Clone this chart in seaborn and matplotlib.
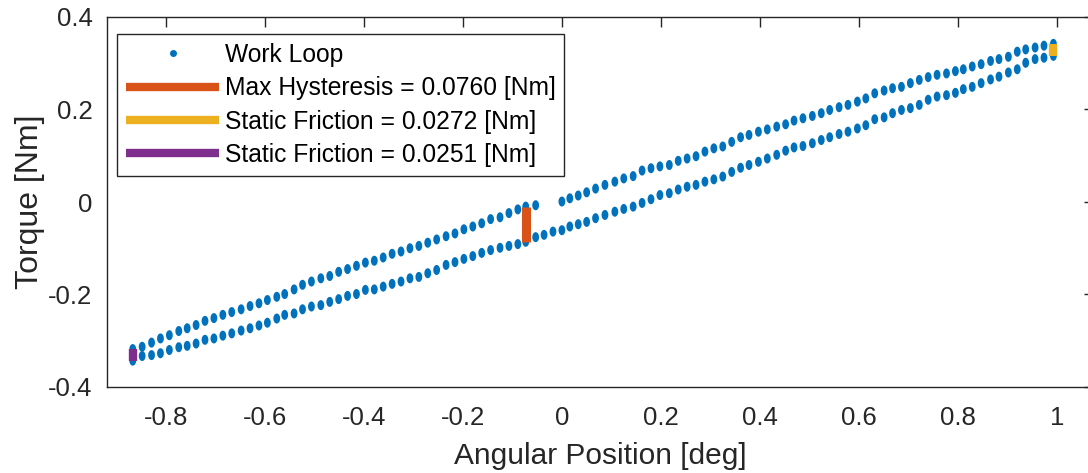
import numpy as np
import pandas as pd
import matplotlib
matplotlib.use("Agg")
import matplotlib.pyplot as plt
from matplotlib.lines import Line2D
import seaborn as sns

# ---------------- data ----------------
x_upper = [-0.867, -0.848, -0.829, -0.811, -0.793, -0.774, -0.757, -0.739, -0.721, -0.703,
           -0.685, -0.667, -0.648, -0.630, -0.612, -0.595, -0.576, -0.560, -0.541, -0.524,
           -0.506, -0.487, -0.469, -0.451, -0.433, -0.415, -0.397, -0.379, -0.361, -0.343,
           -0.325, -0.307, -0.289, -0.271, -0.253, -0.234, -0.216, -0.198, -0.180, -0.162,
           -0.144, -0.125, -0.107, -0.089, -0.073, -0.053,
           0.000, 0.016, 0.033, 0.050, 0.068, 0.087, 0.107, 0.125, 0.144, 0.162,
           0.180, 0.198, 0.217, 0.235, 0.253, 0.271, 0.289, 0.307, 0.325, 0.343,
           0.361, 0.378, 0.397, 0.415, 0.434, 0.452, 0.469, 0.487, 0.506, 0.524,
           0.541, 0.560, 0.578, 0.597, 0.614, 0.632, 0.651, 0.668, 0.686, 0.704,
           0.722, 0.740, 0.758, 0.777, 0.795, 0.811, 0.829, 0.847, 0.866, 0.883,
           0.902, 0.920, 0.937, 0.956, 0.974, 0.993]
torque_upper = [-0.318, -0.313, -0.304, -0.295, -0.288, -0.279, -0.273, -0.266, -0.257, -0.251,
                -0.244, -0.238, -0.232, -0.225, -0.219, -0.212, -0.205, -0.199, -0.189, -0.179,
                -0.172, -0.165, -0.160, -0.151, -0.145, -0.138, -0.131, -0.127, -0.120, -0.112,
                -0.107, -0.100, -0.095, -0.088, -0.081, -0.074, -0.068, -0.059, -0.053, -0.046,
                -0.037, -0.033, -0.024, -0.016, -0.010, -0.007,
                0.001, 0.008, 0.014, 0.021, 0.029, 0.037, 0.044, 0.051, 0.056, 0.068,
                0.073, 0.077, 0.080, 0.089, 0.094, 0.099, 0.109, 0.116, 0.120, 0.130,
                0.140, 0.145, 0.152, 0.157, 0.163, 0.168, 0.176, 0.181, 0.186, 0.192,
                0.199, 0.205, 0.210, 0.217, 0.224, 0.235, 0.241, 0.246, 0.249, 0.257,
                0.264, 0.270, 0.275, 0.278, 0.283, 0.287, 0.293, 0.298, 0.305, 0.309,
                0.314, 0.325, 0.330, 0.334, 0.338, 0.342]

x_lower = [-0.867, -0.848, -0.829, -0.811, -0.793, -0.774, -0.757, -0.739, -0.721, -0.703,
           -0.685, -0.667, -0.648, -0.630, -0.612, -0.595, -0.576, -0.560, -0.541, -0.524,
           -0.506, -0.487, -0.469, -0.451, -0.433, -0.415, -0.397, -0.379, -0.361, -0.343,
           -0.325, -0.307, -0.289, -0.271, -0.253, -0.234, -0.216, -0.198, -0.180, -0.162,
           -0.144, -0.125, -0.107, -0.089, -0.073, -0.053, -0.036, -0.018, 0.000, 0.016,
           0.033, 0.050, 0.068, 0.087, 0.107, 0.125, 0.144, 0.162, 0.180, 0.198,
           0.217, 0.235, 0.253, 0.271, 0.289, 0.307, 0.325, 0.343, 0.361, 0.378,
           0.397, 0.415, 0.434, 0.452, 0.469, 0.487, 0.506, 0.524, 0.541, 0.560,
           0.578, 0.597, 0.614, 0.632, 0.651, 0.668, 0.686, 0.704, 0.722, 0.740,
           0.758, 0.777, 0.795, 0.811, 0.829, 0.847, 0.866, 0.883, 0.902, 0.920,
           0.937, 0.956, 0.974, 0.993]
torque_lower = [-0.343, -0.333, -0.331, -0.327, -0.320, -0.314, -0.311, -0.306, -0.298, -0.295,
                -0.289, -0.284, -0.278, -0.273, -0.267, -0.261, -0.252, -0.244, -0.241, -0.232,
                -0.226, -0.223, -0.216, -0.210, -0.203, -0.199, -0.190, -0.189, -0.183, -0.177,
                -0.172, -0.165, -0.162, -0.154, -0.147, -0.136, -0.130, -0.123, -0.117, -0.110,
                -0.104, -0.099, -0.095, -0.091, -0.086, -0.076, -0.071, -0.064, -0.061, -0.053,
                -0.048, -0.043, -0.035, -0.028, -0.021, -0.015, -0.010, -0.002, 0.006, 0.015,
                0.019, 0.027, 0.033, 0.037, 0.044, 0.049, 0.055, 0.065, 0.074, 0.080,
                0.087, 0.094, 0.102, 0.111, 0.118, 0.121, 0.127, 0.134, 0.140, 0.147,
                0.152, 0.159, 0.166, 0.179, 0.183, 0.192, 0.199, 0.203, 0.210, 0.221,
                0.228, 0.231, 0.236, 0.244, 0.249, 0.257, 0.265, 0.271, 0.280, 0.287,
                0.301, 0.309, 0.312, 0.316]

hyst_x = [-0.073, -0.073]
hyst_y = [-0.086, -0.010]
sf1_x = [0.993, 0.993]
sf1_y = [0.315, 0.342]
sf2_x = [-0.867, -0.867]
sf2_y = [-0.343, -0.318]

labels = ["Work Loop",
          "Max Hysteresis = 0.0760 [Nm]",
          "Static Friction = 0.0272 [Nm]",
          "Static Friction = 0.0251 [Nm]"]
xticks = [-0.8, -0.6, -0.4, -0.2, 0, 0.2, 0.4, 0.6, 0.8, 1]
xtick_labels = ["-0.8", "-0.6", "-0.4", "-0.2", "0", "0.2", "0.4", "0.6", "0.8", "1"]
yticks = [-0.4, -0.2, 0, 0.2, 0.4]
ytick_labels = ["-0.4", "-0.2", "0", "0.2", "0.4"]

# ---------------- style ----------------
sns.set_style("white")
plt.rcParams["font.family"] = ["Liberation Sans", "DejaVu Sans"]

BLUE = "#0072BD"
ORANGE = "#D95319"
YELLOW = "#EDB120"
PURPLE = "#7E2F8E"
DARK = "#262626"

fig = plt.figure(figsize=(10.88, 4.73), dpi=100)
W, H = 1088, 473
ax = fig.add_axes([107 / W, (H - 387) / H, (1094 - 107) / W, 370 / H])

df = pd.DataFrame({
    "x": x_upper + x_lower,
    "t": torque_upper + torque_lower,
})

theta = np.linspace(0, 2 * np.pi, 40)
ell = np.column_stack([0.68 * np.cos(theta), np.sin(theta)])

sns.scatterplot(data=df, x="x", y="t", ax=ax, marker=ell, s=52,
                color=BLUE, edgecolor="none", linewidth=0, legend=False, zorder=2)

ax.plot(hyst_x, hyst_y, color=ORANGE, lw=6.5, solid_capstyle="butt", zorder=3)
ax.plot(sf1_x, sf1_y, color=YELLOW, lw=6.0, solid_capstyle="butt", zorder=3)
ax.plot(sf2_x, sf2_y, color=PURPLE, lw=6.0, solid_capstyle="butt", zorder=3)

ax.set_xlim(-0.919, 1.075)
ax.set_ylim(-0.4, 0.4)
ax.set_xticks(xticks)
ax.set_xticklabels(xtick_labels)
ax.set_yticks(yticks)
ax.set_yticklabels(ytick_labels)

ax.tick_params(direction="in", length=7, width=1, color=DARK, top=True, right=True,
               labelsize=18.5, labelcolor=DARK)
ax.tick_params(axis="x", pad=14)
ax.tick_params(axis="y", pad=10.5)
for sp in ax.spines.values():
    sp.set_color(DARK)
    sp.set_linewidth(1.0)
    sp.set_visible(True)

ax.set_xlabel("Angular Position [deg]", fontsize=21.5, color=DARK, labelpad=8.5)
ax.set_ylabel("Torque [Nm]", fontsize=23, color=DARK, labelpad=2.5)

handles = [
    Line2D([], [], linestyle="none", marker="o", markersize=4, color=BLUE),
    Line2D([], [], color=ORANGE, lw=6, solid_capstyle="butt"),
    Line2D([], [], color=YELLOW, lw=6, solid_capstyle="butt"),
    Line2D([], [], color=PURPLE, lw=6, solid_capstyle="butt"),
]
leg = ax.legend(handles, labels, loc="upper left",
                bbox_to_anchor=((117 - 107) / 987, 1 - (34 - 17) / 370),
                borderaxespad=0, fontsize=17.7, frameon=True, fancybox=False,
                framealpha=1, edgecolor=DARK, handlelength=3.8, handletextpad=0.22,
                labelspacing=0.38, borderpad=0.36, numpoints=1)
leg.get_frame().set_linewidth(1.0)
for t in leg.get_texts():
    t.set_color("black")

fig.savefig("out.png", dpi=100)
